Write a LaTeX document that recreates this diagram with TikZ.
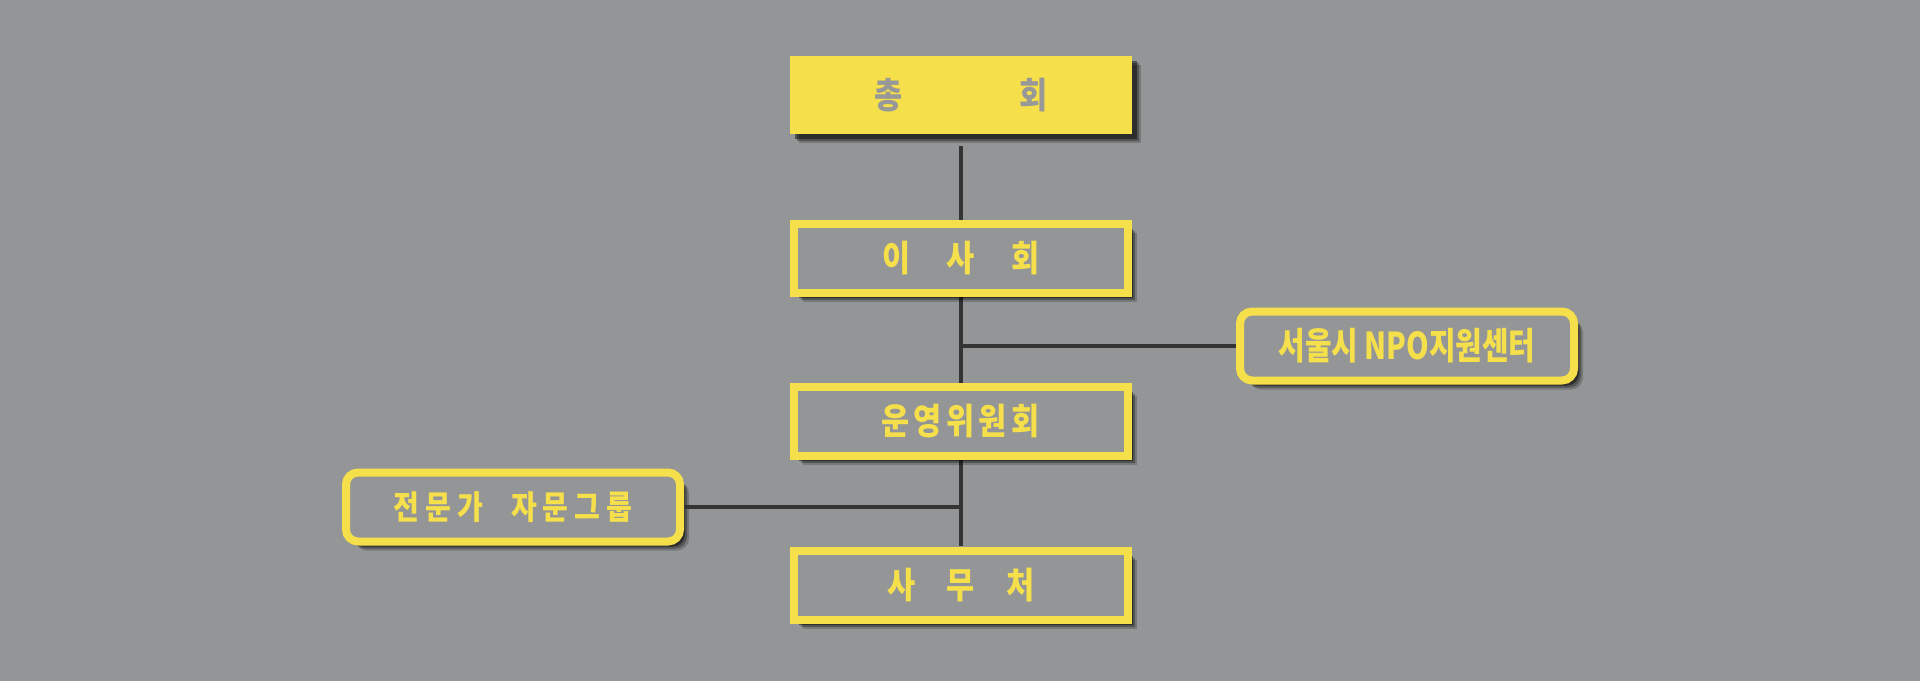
\documentclass[tikz,border=0pt]{standalone}
\usepackage{fontspec}
\newfontfamily\krfont{Noto Sans CJK KR}[FakeStretch=0.85]
\newfontfamily\krnarrow{Noto Sans CJK KR}[FakeStretch=0.78]
\usetikzlibrary{positioning,shadows}
\definecolor{bggray}{RGB}{148,149,151}
\definecolor{boxyellow}{RGB}{245,223,75}
\definecolor{txtgray}{RGB}{152,152,152}
\definecolor{linedark}{RGB}{52,52,52}
\tikzset{
  shd/.style={drop shadow={shadow xshift=4.5pt, shadow yshift=-4.5pt, fill=black, opacity=0.2},
              drop shadow={shadow xshift=3.5pt, shadow yshift=-3.5pt, fill=black, opacity=0.3},
              drop shadow={shadow xshift=2.5pt, shadow yshift=-2.5pt, fill=black, opacity=0.45}},
  solidbox/.style={shd, fill=boxyellow, minimum width=171pt, minimum height=39pt, inner sep=0pt, outer sep=0pt,
                   font=\krfont\bfseries\fontsize{18pt}{18pt}\selectfont, text=txtgray},
  linebox/.style={shd, draw=boxyellow, line width=4pt, fill=bggray, minimum width=167pt, minimum height=34.5pt,
                  inner sep=0pt, outer sep=2pt, font=\krfont\bfseries\fontsize{18pt}{18pt}\selectfont, text=boxyellow},
  roundbox/.style={linebox, rounded corners=6pt},
  link/.style={draw=linedark, line width=2pt},
}
\begin{document}
\begin{tikzpicture}[x=0.5pt, y=-0.5pt]
\fill[bggray] (0,0) rectangle (1920,681);
% links first, boxes above
\coordinate (top) at (961,146);
\coordinate (bot) at (961,546);
\draw[link] (top) -- (bot);
\node[solidbox] (chonghoe) at (961,95) {총\hspace{58.5pt}회};
\node[linebox] (isahoe) at (961,258.5) {이\hspace{18pt}사\hspace{18pt}회};
\node[roundbox, font=\krnarrow\bfseries\fontsize{18.5pt}{18.5pt}\selectfont] (npo) at (1407,346) {서울시 NPO지원센터};
\node[linebox] (unyeong) at (960.5,421.5) {운\hspace{2.2pt}영\hspace{2.2pt}위\hspace{2.2pt}원\hspace{2.2pt}회};
\node[roundbox, font=\krfont\bfseries\fontsize{16.5pt}{16.5pt}\selectfont] (jamun) at (513,507)
  {전\hspace{3pt}문\hspace{3pt}가\hspace{14pt}자\hspace{3pt}문\hspace{3pt}그\hspace{3pt}룹};
\node[linebox] (samucheo) at (961,585) {사\hspace{15.5pt}무\hspace{15.5pt}처};
\draw[link] (isahoe.south |- npo.west) -- (npo.west);
\draw[link] (unyeong.south |- jamun.east) -- (jamun.east);
\end{tikzpicture}
\end{document}
